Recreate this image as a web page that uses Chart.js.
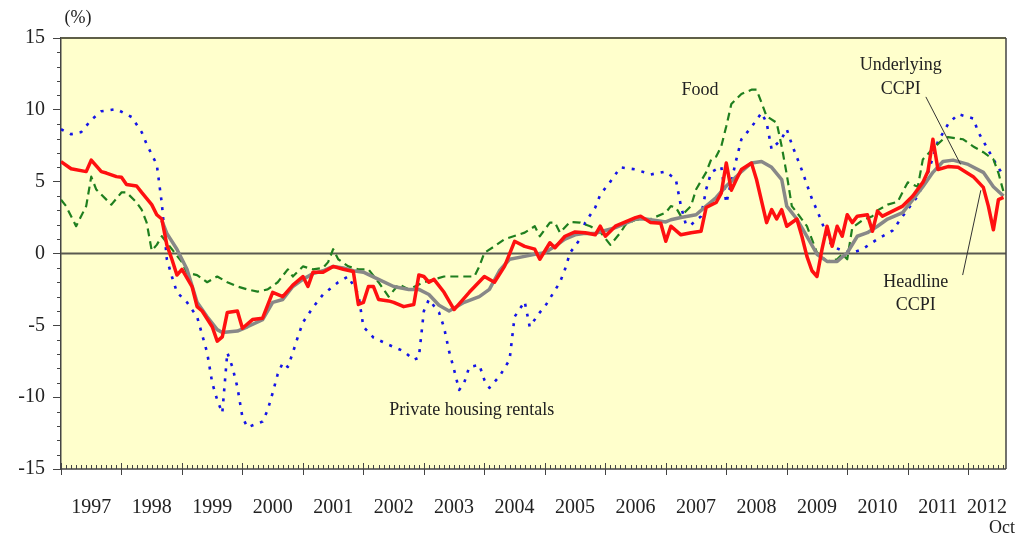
<!DOCTYPE html>
<html>
<head>
<meta charset="utf-8">
<script src="https://cdn.jsdelivr.net/npm/chart.js@4/dist/chart.umd.min.js"></script>
<style>
  html, body { margin: 0; padding: 0; background: #fff; }
</style>
</head>
<body>
<canvas id="chart" width="1024" height="537"></canvas>
<script>
// x axis: months counted from the start of the series (0 = start of 1997)
const yearLabels = ['1997', '1998', '1999', '2000', '2001', '2002', '2003', '2004',
    '2005', '2006', '2007', '2008', '2009', '2010', '2011', '2012'];
const yearLabelMonths = [6, 18, 30, 42, 54, 66, 78, 90, 102, 114, 126, 138, 150, 162, 174, 183.75];
const lastMonth = 187.5;

// Headline CCPI (% yoy)
const headlineMonths = [0, 2, 5, 6, 8, 9, 11, 12, 13, 15, 16, 18, 19, 20, 21, 22, 23, 24, 26, 27,
    28, 30, 31, 32, 33, 35, 36, 38, 40, 42, 44, 46, 48, 49, 50, 52, 54, 56, 58, 59,
    60, 61, 62, 63, 65, 66, 68, 70, 71, 72, 73, 74, 76, 78, 81, 84, 86, 88, 90, 92,
    94, 95, 97, 98, 100, 102, 104, 106, 107, 108, 110, 112, 114, 115, 117, 119, 120, 121, 123, 125,
    127, 128, 130, 131, 132, 133, 134, 135, 137, 138, 140, 141, 142, 143, 144, 146, 147, 148, 149, 150,
    151, 152, 153, 154, 155, 156, 157, 158, 160, 161, 162, 163, 165, 167, 169, 171, 172, 173, 174, 176,
    178, 181, 183, 184, 185, 186, 187];
const headlineValues = [6.4, 5.9, 5.7, 6.5, 5.7, 5.6, 5.35, 5.3, 4.8, 4.7, 4.25, 3.4, 2.7, 2.4, 0.6, -0.4, -1.5, -1.1, -2.3, -3.7,
    -4.0, -5.1, -6.1, -5.8, -4.1, -4.0, -5.2, -4.6, -4.5, -2.7, -3.0, -2.2, -1.6, -2.3, -1.3, -1.3, -0.9, -1.1, -1.25, -3.55,
    -3.4, -2.3, -2.3, -3.2, -3.3, -3.4, -3.7, -3.55, -1.5, -1.6, -2.0, -1.8, -2.7, -3.9, -2.7, -1.6, -2.0, -0.9, 0.85, 0.5,
    0.3, -0.4, 0.75, 0.4, 1.2, 1.5, 1.45, 1.3, 1.9, 1.2, 1.9, 2.2, 2.5, 2.6, 2.15, 2.1, 0.85, 1.9, 1.3, 1.45,
    1.55, 3.2, 3.55, 4.2, 6.3, 4.4, 5.15, 5.85, 6.3, 5.15, 2.15, 3.05, 2.4, 3.05, 1.9, 2.4, 1.2, -0.2, -1.2, -1.6,
    0.3, 1.9, 0.5, 1.9, 1.2, 2.7, 2.15, 2.6, 2.7, 1.55, 2.95, 2.6, 2.95, 3.3, 4.0, 4.95, 5.7, 7.95, 5.85, 6.05,
    6.0, 5.35, 4.6, 3.3, 1.65, 3.75, 3.9];

// Underlying CCPI
const underlyingMonths = [20, 21, 23, 25, 27, 29, 31, 32, 35, 37, 40, 42, 44, 46, 48, 50, 52, 54, 56, 58,
    60, 63, 66, 69, 71, 73, 75, 77, 80, 83, 85, 87, 89, 92, 94, 96, 98, 100, 102, 104,
    106, 108, 110, 112, 114, 116, 118, 120, 121, 123, 126, 128, 130, 132, 134, 135, 137, 139, 141, 143,
    144, 146, 148, 150, 152, 154, 156, 158, 160, 162, 164, 167, 169, 171, 173, 175, 177, 180, 183, 185,
    187];
const underlyingValues = [2.3, 1.4, 0.3, -1.1, -3.4, -4.4, -5.3, -5.5, -5.4, -5.1, -4.6, -3.4, -3.2, -2.3, -1.8, -1.4, -1.2, -0.9, -1.0, -1.2,
    -1.3, -1.8, -2.3, -2.5, -2.5, -2.85, -3.6, -4.0, -3.4, -3.0, -2.5, -1.2, -0.4, -0.2, -0.05, 0.05, 0.5, 1.0, 1.3, 1.4,
    1.4, 1.6, 1.8, 2.1, 2.4, 2.4, 2.3, 2.2, 2.35, 2.5, 2.7, 3.3, 3.9, 4.7, 5.35, 5.7, 6.3, 6.4, 6.0, 5.15,
    3.3, 2.4, 1.2, -0.05, -0.55, -0.55, 0.05, 1.2, 1.45, 1.9, 2.4, 2.85, 3.75, 4.65, 5.65, 6.4, 6.5, 6.2, 5.65, 4.65,
    4.0];

// Food
const foodMonths = [0, 1, 3, 5, 6, 7, 9, 10, 12, 13, 15, 16, 17, 18, 19, 20, 21, 22, 24, 25,
    27, 29, 31, 33, 35, 37, 39, 41, 43, 45, 46, 48, 50, 52, 53, 54, 55, 57, 59, 61,
    63, 65, 67, 69, 72, 74, 76, 78, 80, 82, 83, 84, 86, 88, 92, 94, 95, 97, 98, 99,
    101, 103, 105, 107, 109, 111, 112, 114, 117, 120, 121, 122, 123, 125, 126, 128, 129, 130, 131, 132,
    133, 135, 137, 138, 139, 140, 142, 143, 144, 145, 146, 148, 150, 152, 154, 155, 156, 157, 159, 161,
    162, 164, 166, 168, 170, 171, 173, 175, 176, 179, 181, 183, 185, 186, 187];
const foodValues = [3.75, 3.3, 1.9, 3.3, 5.35, 4.45, 3.75, 3.4, 4.25, 4.25, 3.55, 3.05, 2.15, 0.2, 0.6, 1.2, 0.75, 0.3, -0.6, -1.35,
    -1.5, -2.0, -1.6, -2.0, -2.3, -2.5, -2.65, -2.5, -2.0, -1.1, -1.6, -0.9, -1.1, -1.0, -0.6, 0.3, -0.4, -0.9, -1.1, -1.1,
    -2.0, -3.0, -2.15, -2.5, -2.0, -1.8, -1.6, -1.6, -1.6, -1.6, -0.9, 0.05, 0.5, 1.0, 1.45, 1.9, 1.2, 2.15, 2.15, 1.45,
    2.2, 2.15, 1.9, 1.5, 0.6, 1.45, 2.0, 2.35, 2.4, 2.85, 3.3, 3.2, 2.6, 3.3, 4.45, 5.65, 6.55, 6.75, 7.45, 8.85,
    10.4, 11.1, 11.4, 11.4, 10.5, 9.55, 9.1, 7.45, 5.5, 3.3, 2.85, 1.9, 0.05, -0.55, -0.4, -0.05, -0.4, 1.8, 2.3, 2.6,
    3.0, 3.4, 3.6, 4.95, 4.65, 6.55, 7.3, 7.95, 8.1, 7.95, 7.45, 7.05, 6.55, 5.6, 4.3];

// Private housing rentals
const rentMonths = [0, 2, 4, 6, 8, 11, 14, 16, 17, 19, 20, 21, 22, 23, 25, 27, 29, 30, 31, 32,
    33, 34, 35, 36, 37, 40, 41, 42, 43, 44, 45, 46, 47, 48, 50, 52, 55, 57, 59, 60,
    62, 65, 68, 70, 71, 72, 73, 75, 76, 77, 78, 79, 80, 81, 83, 84, 85, 87, 89, 90,
    92, 93, 95, 96, 99, 100, 101, 103, 104, 106, 107, 109, 111, 114, 117, 120, 122, 123, 124, 125,
    127, 128, 129, 131, 132, 134, 135, 137, 139, 140, 141, 143, 144, 145, 147, 149, 150, 151, 152, 153,
    155, 157, 159, 162, 165, 167, 170, 172, 174, 176, 178, 181, 182, 184, 185, 187];
const rentValues = [8.65, 8.3, 8.45, 9.3, 9.9, 10.05, 9.5, 8.45, 7.6, 6.2, 3.5, -0.4, -1.6, -2.7, -3.4, -4.4, -6.9, -9.0, -10.2, -11.1,
    -6.9, -7.9, -9.3, -11.4, -12.1, -11.7, -10.9, -9.7, -8.4, -7.6, -7.9, -6.9, -5.8, -4.8, -3.75, -2.85, -2.0, -1.6, -2.85, -5.1,
    -5.85, -6.35, -6.8, -7.4, -7.25, -4.0, -3.2, -4.1, -5.15, -6.8, -8.1, -9.5, -9.0, -7.9, -7.75, -8.8, -9.35, -8.55, -7.4, -4.4,
    -3.35, -5.1, -4.1, -3.7, -2.0, -1.1, 0.05, 1.0, 2.15, 3.2, 4.1, 5.0, 6.0, 5.85, 5.5, 5.7, 5.15, 3.3, 2.0, 2.0,
    2.6, 4.45, 5.65, 6.05, 3.5, 6.55, 7.95, 8.8, 9.8, 9.1, 7.25, 8.0, 8.65, 7.6, 5.8, 3.8, 3.0, 2.15, 1.2, 0.5,
    0.2, 0.05, 0.3, 1.0, 1.6, 2.6, 4.0, 5.6, 7.8, 9.0, 9.7, 9.4, 8.45, 7.2, 6.55, 5.4];

function toPoints(months, values) {
    return months.map((m, i) => ({ x: m, y: values[i] }));
}

const serif = '"Liberation Serif", "Times New Roman", serif';

// background, zero line, tick marks, borders and labels
const decor = {
    id: 'decor',
    beforeDraw(chart) {
        const { ctx, chartArea: a } = chart;
        ctx.save();
        ctx.fillStyle = '#FFFFCC';
        ctx.fillRect(a.left, a.top, a.right - a.left, a.bottom - a.top);
        ctx.restore();
    },
    beforeDatasetsDraw(chart) {
        const { ctx, chartArea: a, scales } = chart;
        const y0 = scales.y.getPixelForValue(0);
        ctx.save();
        ctx.strokeStyle = '#5a5a50';
        ctx.lineWidth = 2;
        ctx.beginPath();
        ctx.moveTo(a.left, y0);
        ctx.lineTo(a.right, y0);
        ctx.stroke();
        ctx.restore();
    },
    afterDraw(chart) {
        const { ctx, chartArea: a, scales } = chart;
        const x = scales.x, y = scales.y;
        ctx.save();
        // frame
        ctx.strokeStyle = '#5f5f48';
        ctx.lineWidth = 2;
        ctx.beginPath();
        ctx.moveTo(a.left, a.top);
        ctx.lineTo(a.right, a.top);
        ctx.stroke();
        ctx.strokeStyle = '#444';
        ctx.lineWidth = 1.5;
        ctx.beginPath();
        ctx.moveTo(a.right, a.top);
        ctx.lineTo(a.right, a.bottom);
        ctx.moveTo(a.left, a.bottom);
        ctx.lineTo(a.right, a.bottom);
        ctx.stroke();

        // x ticks: monthly minor, yearly major
        ctx.lineWidth = 1;
        ctx.beginPath();
        for (let m = 0; m <= 187; m++) {
            const px = Math.round(x.getPixelForValue(m)) + 0.5;
            if (m % 12 === 0) {
                ctx.moveTo(px, a.bottom - 6);
                ctx.lineTo(px, a.bottom + 6);
            } else {
                ctx.moveTo(px, a.bottom - 4);
                ctx.lineTo(px, a.bottom);
            }
        }
        // y minor ticks
        for (let v = -15; v <= 15; v++) {
            if (v % 5 === 0) continue;
            const py = Math.round(y.getPixelForValue(v)) + 0.5;
            ctx.moveTo(a.left - 4, py);
            ctx.lineTo(a.left, py);
        }
        ctx.stroke();

        // text
        ctx.fillStyle = '#222';
        ctx.textAlign = 'center';
        ctx.textBaseline = 'middle';
        ctx.font = '18px ' + serif;
        ctx.fillText('(%)', 78, 18);
        ctx.fillText('Oct', 1002, 528);

        const put = (t, m, v) => ctx.fillText(t, x.getPixelForValue(m), y.getPixelForValue(v));
        put('Food', 126.8, 11.35);
        put('Underlying', 166.6, 13.1);
        put('CCPI', 166.6, 11.45);
        put('Headline', 169.6, -2.0);
        put('CCPI', 169.6, -3.6);
        put('Private housing rentals', 81.5, -10.9);

        // leader lines
        ctx.strokeStyle = '#333';
        ctx.lineWidth = 1;
        ctx.beginPath();
        ctx.moveTo(x.getPixelForValue(171.6), y.getPixelForValue(10.9));
        ctx.lineTo(x.getPixelForValue(178.5), y.getPixelForValue(6.2));
        ctx.moveTo(x.getPixelForValue(178.9), y.getPixelForValue(-1.5));
        ctx.lineTo(x.getPixelForValue(182.5), y.getPixelForValue(4.4));
        ctx.stroke();
        ctx.restore();
    }
};

const lineStyle = { pointRadius: 0, pointHoverRadius: 0, tension: 0, fill: false, borderJoinStyle: 'round' };

new Chart(document.getElementById('chart'), {
    type: 'line',
    data: {
        datasets: [{
            ...lineStyle,
            label: 'Headline CCPI',
            data: toPoints(headlineMonths, headlineValues),
            borderColor: '#ff1010',
            borderWidth: 3.5,
            order: 1
        }, {
            ...lineStyle,
            label: 'Underlying CCPI',
            data: toPoints(underlyingMonths, underlyingValues),
            borderColor: '#888888',
            borderWidth: 3.5,
            order: 2
        }, {
            ...lineStyle,
            label: 'Food',
            data: toPoints(foodMonths, foodValues),
            borderColor: '#1f7f1f',
            borderWidth: 2.2,
            borderDash: [8, 5],
            order: 3
        }, {
            ...lineStyle,
            label: 'Private housing rentals',
            data: toPoints(rentMonths, rentValues),
            borderColor: '#1414e6',
            borderWidth: 2.6,
            borderDash: [3, 7],
            order: 4
        }]
    },
    options: {
        responsive: false,
        animation: false,
        devicePixelRatio: 1,
        layout: { padding: { top: 38, right: 18, left: 0, bottom: 0 } },
        plugins: { legend: { display: false }, tooltip: { enabled: false } },
        scales: {
            x: {
                type: 'linear',
                min: 0,
                max: lastMonth,
                grid: { display: false },
                border: { display: false },
                afterBuildTicks: (scale) => {
                    scale.ticks = yearLabelMonths.map(v => ({ value: v }));
                },
                afterFit: (scale) => {
                    scale.height = 68;
                    scale.paddingLeft = 0;
                    scale.paddingRight = 0;
                },
                ticks: {
                    autoSkip: false,
                    maxRotation: 0,
                    padding: 19,
                    color: '#222',
                    font: { family: serif, size: 20 },
                    callback: (v, i) => yearLabels[i]
                }
            },
            y: {
                min: -15,
                max: 15,
                afterFit: (scale) => { scale.width = 61; },
                grid: { drawOnChartArea: false, drawTicks: true, tickLength: 8, color: '#444' },
                border: { display: true, color: '#444', width: 1.5 },
                ticks: {
                    stepSize: 5,
                    padding: 8,
                    color: '#222',
                    font: { family: serif, size: 20 }
                }
            }
        }
    },
    plugins: [decor]
});
</script>
</body>
</html>
